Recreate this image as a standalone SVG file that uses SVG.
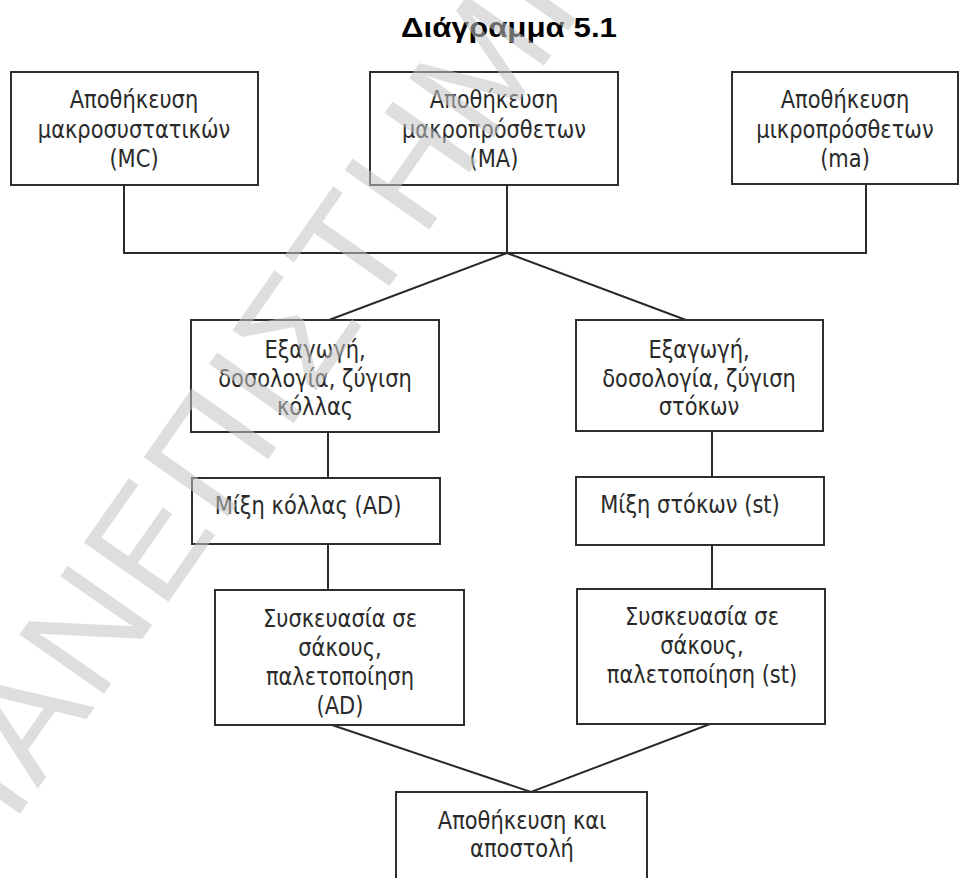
<svg xmlns="http://www.w3.org/2000/svg" width="969" height="878" viewBox="0 0 969 878">
  <style>
    .box { fill: #ffffff; stroke: #2e2e2e; stroke-width: 2; }
    .lbl { font-family: "DejaVu Sans", Verdana, sans-serif; font-size: 21px; fill: #2a2a2a; text-anchor: middle; }
    .title { font-family: "Liberation Sans", Arial, sans-serif; font-size: 28px; font-weight: bold; fill: #000; text-anchor: middle; }
    .wire { fill: none; stroke: #2a2a2a; stroke-width: 2; }
    .mark { font-family: "Liberation Sans", Arial, sans-serif; font-size: 150px; fill: #c4c4c4; opacity: 0.55; }
  </style>
  <rect width="969" height="878" fill="#ffffff"/>

  <text class="title" x="509" y="37" textLength="216" lengthAdjust="spacingAndGlyphs">Διάγραμμα 5.1</text>

  <g id="connectors">
    <polyline class="wire" points="124,185 124,253 866,253 866,184"/>
    <line class="wire" x1="507" y1="185" x2="507" y2="253"/>
    <polyline class="wire" points="329,320 507,253 686,320"/>
    <line class="wire" x1="328" y1="432" x2="328" y2="478"/>
    <line class="wire" x1="328" y1="544" x2="328" y2="590"/>
    <line class="wire" x1="712" y1="431" x2="712" y2="477"/>
    <line class="wire" x1="712" y1="545" x2="712" y2="589"/>
    <polyline class="wire" points="332,725 531,792 710,724"/>
  </g>

  <!-- labels are drawn slightly tall: translate to the baseline, then stretch vertically -->
  <g id="store-mc">
    <rect class="box" x="11" y="72" width="247" height="113"/>
    <text class="lbl" transform="translate(134,108) scale(1,1.2)">Αποθήκευση</text>
    <text class="lbl" transform="translate(134,138) scale(1,1.2)">μακροσυστατικών</text>
    <text class="lbl" transform="translate(134,167) scale(1,1.2)">(MC)</text>
  </g>

  <g id="store-ma">
    <rect class="box" x="370" y="72" width="248" height="113"/>
    <text class="lbl" transform="translate(494,108) scale(1,1.2)">Αποθήκευση</text>
    <text class="lbl" transform="translate(494,138) scale(1,1.2)">μακροπρόσθετων</text>
    <text class="lbl" transform="translate(494,167) scale(1,1.2)">(MA)</text>
  </g>

  <g id="store-micro">
    <rect class="box" x="732" y="72" width="226" height="112"/>
    <text class="lbl" transform="translate(845,108) scale(1,1.2)">Αποθήκευση</text>
    <text class="lbl" transform="translate(845,138) scale(1,1.2)">μικροπρόσθετων</text>
    <text class="lbl" transform="translate(845,167) scale(1,1.2)">(ma)</text>
  </g>

  <g id="dose-glue">
    <rect class="box" x="191" y="320" width="248" height="112"/>
    <text class="lbl" transform="translate(315,358) scale(1,1.2)">Εξαγωγή,</text>
    <text class="lbl" transform="translate(315,387) scale(1,1.2)">δοσολογία, ζύγιση</text>
    <text class="lbl" transform="translate(315,415) scale(1,1.2)">κόλλας</text>
  </g>

  <g id="dose-putty">
    <rect class="box" x="576" y="320" width="247" height="111"/>
    <text class="lbl" transform="translate(699,358) scale(1,1.2)">Εξαγωγή,</text>
    <text class="lbl" transform="translate(699,387) scale(1,1.2)">δοσολογία, ζύγιση</text>
    <text class="lbl" transform="translate(699,415) scale(1,1.2)">στόκων</text>
  </g>

  <g id="mix-glue">
    <rect class="box" x="192" y="478" width="248" height="66"/>
    <text class="lbl" transform="translate(308,514) scale(1,1.2)">Μίξη κόλλας (AD)</text>
  </g>

  <g id="mix-putty">
    <rect class="box" x="576" y="477" width="248" height="68"/>
    <text class="lbl" transform="translate(690,513) scale(1,1.2)">Μίξη στόκων (st)</text>
  </g>

  <g id="pack-glue">
    <rect class="box" x="215" y="590" width="249" height="135"/>
    <text class="lbl" transform="translate(340,627) scale(1,1.2)">Συσκευασία σε</text>
    <text class="lbl" transform="translate(340,656) scale(1,1.2)">σάκους,</text>
    <text class="lbl" transform="translate(340,685) scale(1,1.2)">παλετοποίηση</text>
    <text class="lbl" transform="translate(340,714) scale(1,1.2)">(AD)</text>
  </g>

  <g id="pack-putty">
    <rect class="box" x="577" y="589" width="248" height="135"/>
    <text class="lbl" transform="translate(702,625) scale(1,1.2)">Συσκευασία σε</text>
    <text class="lbl" transform="translate(702,654) scale(1,1.2)">σάκους,</text>
    <text class="lbl" transform="translate(702,683) scale(1,1.2)">παλετοποίηση (st)</text>
  </g>

  <g id="store-ship">
    <rect class="box" x="396" y="792" width="251" height="100"/>
    <text class="lbl" transform="translate(522,829) scale(1,1.2)">Αποθήκευση και</text>
    <text class="lbl" transform="translate(522,857) scale(1,1.2)">αποστολή</text>
  </g>

  <text class="mark" transform="translate(-27,881) rotate(-55)" letter-spacing="4">ΠΑΝΕΠΙΣΤΗΜΙΟ</text>
</svg>
